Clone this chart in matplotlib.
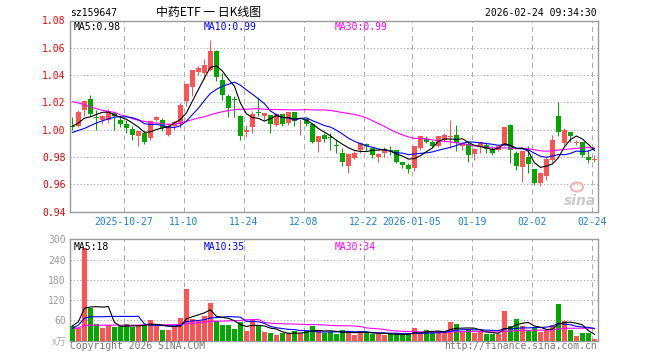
import numpy as np
import pandas as pd
import matplotlib
matplotlib.use("Agg")
import matplotlib.pyplot as plt
from matplotlib.patches import Ellipse

# ---------------- data ----------------
tick_idx = [9, 19, 29, 39, 49, 57, 67, 77, 87]
tick_labels = ["2025-10-27", "11-10", "11-24", "12-08", "12-22",
               "2026-01-05", "01-19", "02-02", "02-24"]

open_ = [1.003, 1.0025, 1.0142, 1.0228, 1.009, 1.0069, 1.0074, 1.0122, 1.0074, 1.0044,
         1.0007, 0.9956, 0.9975, 0.9936, 1.0074, 1.0074, 0.9963, 1.0025, 1.0044, 1.0208,
         1.0314, 1.0425, 1.0415, 1.0438, 1.0579, 1.0364, 1.0247, 1.0225, 1.0103, 0.9987,
         1.002, 1.013, 1.0098, 1.0105, 1.0032, 1.0118, 1.0049, 1.0127, 1.0069, 1.0078,
         1.0042, 0.9914, 0.9963, 0.9941, 0.9885, 0.9828, 0.9735, 0.9792, 0.9853, 0.9897,
         0.9865, 0.9804, 0.9828, 0.9849, 0.9853, 0.9762, 0.9743, 0.9718, 0.9865, 0.9931,
         0.9914, 0.9882, 0.9926, 0.9949, 0.9963, 0.9878, 0.9897, 0.9824, 0.9873, 0.989,
         0.9858, 0.9853, 0.9882, 1.0037, 0.9833, 0.973, 0.9797, 0.9713, 0.9608, 0.9664,
         0.9779, 1.0098, 0.9902, 0.998, 0.9902, 0.9914, 0.9804, 0.9782]
high = [1.009, 1.0142, 1.022, 1.0255, 1.0147, 1.011, 1.0152, 1.0127, 1.0098, 1.0074,
        1.0025, 0.9988, 0.9988, 1.0074, 1.0103, 1.0086, 1.0049, 1.0065, 1.0196, 1.0343,
        1.0441, 1.047, 1.052, 1.0657, 1.0585, 1.0413, 1.0262, 1.0247, 1.011, 1.0035,
        1.0135, 1.0238, 1.0122, 1.0105, 1.0122, 1.0118, 1.0127, 1.013, 1.0078, 1.0086,
        1.0042, 0.9951, 0.9975, 0.9975, 0.9926, 0.9865, 0.9828, 0.9848, 0.9914, 0.99,
        0.987, 0.9833, 0.9873, 0.9882, 0.9855, 0.9765, 0.9755, 0.9882, 0.9955, 0.9956,
        0.9926, 0.9956, 0.9975, 1.0069, 1.0037, 0.9914, 0.9914, 0.9865, 0.9914, 0.9914,
        0.9878, 0.989, 1.002, 1.0044, 0.9848, 0.9848, 0.9878, 0.9713, 0.9694, 0.9804,
        0.9963, 1.0201, 1.0012, 0.998, 0.9926, 0.9914, 0.9853, 0.9816]
low = [1.000, 1.002, 1.0098, 1.0098, 1.000, 1.0044, 1.0049, 1.000, 1.002, 0.9975,
       0.9926, 0.9878, 0.9897, 0.9926, 1.0061, 0.9988, 0.9956, 1.000, 1.0012, 1.0172,
       1.0245, 1.040, 1.037, 1.043, 1.036, 1.0218, 1.0096, 1.0096, 0.9922, 0.995,
       0.9975, 1.0098, 1.0069, 0.9975, 1.0025, 1.0025, 1.0037, 1.0025, 0.9963, 1.0029,
       0.990, 0.984, 0.9914, 0.9853, 0.9828, 0.9735, 0.9686, 0.9784, 0.9828, 0.9841,
       0.9792, 0.9767, 0.9804, 0.9816, 0.9755, 0.9718, 0.9686, 0.9701, 0.9853, 0.9902,
       0.9865, 0.9877, 0.9914, 0.9865, 0.9841, 0.9853, 0.9767, 0.978, 0.9828, 0.9828,
       0.9816, 0.9841, 0.9878, 0.9755, 0.9706, 0.962, 0.9681, 0.9596, 0.9591, 0.9632,
       0.9767, 0.9951, 0.989, 0.9914, 0.989, 0.9799, 0.9755, 0.9767]
close = [1.002, 1.0127, 1.0208, 1.0118, 1.0088, 1.0098, 1.0135, 1.0098, 1.0044, 1.001,
         0.9958, 0.9988, 0.9907, 1.0061, 1.0096, 1.0012, 1.0029, 1.0055, 1.0184, 1.0338,
         1.0441, 1.0455, 1.0475, 1.0577, 1.0389, 1.0255, 1.0157, 1.0218, 0.9956, 0.9999,
         1.0118, 1.0125, 1.012, 1.0042, 1.0118, 1.0042, 1.0127, 1.0061, 1.0074, 1.0044,
         0.9914, 0.9951, 0.9931, 0.9939, 0.9883, 0.9767, 0.9821, 0.9833, 0.9902, 0.9878,
         0.9816, 0.9824, 0.9858, 0.9847, 0.9767, 0.9743, 0.9711, 0.9878, 0.9951, 0.9914,
         0.9882, 0.9951, 0.9963, 0.9951, 0.9902, 0.9902, 0.9816, 0.9858, 0.9907, 0.9858,
         0.9828, 0.9878, 1.0017, 0.9853, 0.9738, 0.9848, 0.9748, 0.9608, 0.9681, 0.9784,
         0.9926, 0.998, 1.000, 0.9951, 0.9914, 0.9816, 0.978, 0.9787]
volume = [44, 38, 276, 97, 49, 38, 46, 40, 43, 49,
          42, 46, 48, 61, 45, 31, 31, 43, 66, 153,
          63, 58, 73, 111, 57, 46, 46, 35, 55, 28,
          64, 45, 27, 22, 16, 22, 22, 29, 24, 28,
          43, 28, 22, 26, 19, 31, 26, 17, 28, 25,
          19, 21, 17, 19, 19, 17, 23, 37, 21, 31,
          26, 28, 26, 55, 49, 28, 31, 23, 28, 19,
          19, 21, 88, 44, 64, 43, 30, 37, 26, 31,
          46, 108, 58, 32, 15, 22, 22, 4]

# moving-average values before a full window exists
ma5_head = [1.0025, 1.005, 1.0085, 1.0095]
ma10_head = [0.998, 0.9995, 1.001, 1.003, 1.005, 1.0065, 1.008, 1.0093, 1.0095]
ma30_head = [1.0206, 1.0196, 1.0184, 1.0167, 1.0154, 1.0142, 1.0135, 1.0127, 1.011, 1.0098,
             1.0081, 1.0069, 1.0061, 1.0054, 1.0049, 1.0044, 1.0039, 1.0042, 1.0049, 1.0061,
             1.0074, 1.0086, 1.0095, 1.011, 1.0122, 1.0132, 1.014, 1.0147, 1.015]
vma5_head = [44, 56, 96, 100]
vma10_head = [37, 46, 67, 71, 71, 71, 72, 72, 72]
vma30_head = [36, 38, 45, 46, 46, 46, 46, 46, 46, 46, 46, 46, 47, 47, 47,
              47, 47, 48, 48, 50, 52, 53, 55, 57, 58, 58, 59, 59, 60]

price_ticks = [0.94, 0.96, 0.98, 1.00, 1.02, 1.04, 1.06, 1.08]
vol_ticks = [60, 120, 180, 240, 300]


def ma(values, window, head):
    out = pd.Series(values, dtype=float).rolling(window).mean().to_numpy()
    out[:len(head)] = head
    return out


open_ = np.array(open_); high = np.array(high); low = np.array(low)
close = np.array(close); volume = np.array(volume, dtype=float)
n = len(close)
x = np.arange(n)

RED = "#ff5252"
GREEN = "#00a800"
BLUE_TXT = "#1a80d0"
GRID = "#aaaaaa"
FRAME = "#9a9a9a"
MONO = "DejaVu Sans Mono"
CJK = ["Noto Sans CJK SC", "DejaVu Sans"]

plt.rcParams["lines.scale_dashes"] = False

fig = plt.figure(figsize=(6.6, 3.6), dpi=100)
fig.patch.set_facecolor("white")

W, H = 660.0, 360.0


def fx(px):
    return px / W


def fy(py):
    return 1 - py / H


ax = fig.add_axes([fx(70), fy(211.7), 528 / W, 191.2 / H])
vax = fig.add_axes([fx(70), fy(340.7), 528 / W, 101.2 / H])

colors = np.where(close >= open_, RED, GREEN)
tick_pos = np.array(tick_idx) - 0.4

for a in (ax, vax):
    a.set_xlim(-0.4, n - 0.4)
    for s in a.spines.values():
        s.set_color(FRAME)
        s.set_linewidth(1.0)
    a.set_xticks(tick_pos)
    a.xaxis.grid(True, color=GRID, linestyle=(0, (3.6, 2.9)), linewidth=0.72)
    a.yaxis.grid(True, color=GRID, linestyle=(0, (0.9, 1.5)), linewidth=0.72)
    a.set_axisbelow(True)
    a.tick_params(length=0)

# ---- price panel ----
ax.set_ylim(0.94, 1.08)
ax.vlines(x, low, high, colors=colors, linewidth=0.75, zorder=2)
body_bot = np.minimum(open_, close)
body_h = np.maximum(np.abs(close - open_), 0.0006)
ax.bar(x, body_h, bottom=body_bot, width=0.78, color=colors, linewidth=0,
       zorder=3, antialiased=False)
ax.plot(x, ma(close, 30, ma30_head), color="#ff00ff", lw=0.8, zorder=4)
ax.plot(x, ma(close, 10, ma10_head), color="#0000ff", lw=0.8, zorder=4)
ax.plot(x, ma(close, 5, ma5_head), color="black", lw=0.8, zorder=5)
ax.set_yticks(price_ticks)
ax.set_yticklabels([f"{v:.2f}" for v in price_ticks], fontfamily=MONO, fontsize=7)
for lab, v in zip(ax.get_yticklabels(), price_ticks):
    lab.set_color("#ff0000" if v >= 1.0 else "#e00000")
ax.set_xticklabels(tick_labels, fontfamily=MONO, fontsize=7, color=BLUE_TXT)
ax.tick_params(axis="y", pad=3)
ax.tick_params(axis="x", pad=3.5)

# ---- volume panel ----
vax.set_ylim(0, 300)
vax.bar(x, volume, width=0.8, color=colors, linewidth=0, zorder=3, antialiased=False)
vax.plot(x, ma(volume, 30, vma30_head), color="#ff00ff", lw=0.8, zorder=4)
vax.plot(x, ma(volume, 10, vma10_head), color="#0000ff", lw=0.8, zorder=4)
vax.plot(x, ma(volume, 5, vma5_head), color="black", lw=0.8, zorder=5)
vax.set_yticks(vol_ticks)
vax.set_yticklabels([str(v) for v in vol_ticks], fontfamily=MONO, fontsize=7, color="#999999")
vax.tick_params(axis="y", pad=3)
vax.set_xticklabels([])

# ---- texts ----
ma5_last = ma(close, 5, ma5_head)[-1]
ma10_last = ma(close, 10, ma10_head)[-1]
ma30_last = ma(close, 30, ma30_head)[-1]
fig.text(fx(74), fy(26.5), "MA5:0.98", fontfamily=MONO, fontsize=7, color="black", va="center")
fig.text(fx(204), fy(26.5), "MA10:0.99", fontfamily=MONO, fontsize=7, color="#0000ff", va="center")
fig.text(fx(334.5), fy(26.5), "MA30:0.99", fontfamily=MONO, fontsize=7, color="#ff00ff", va="center")
fig.text(fx(74), fy(246.5), "MA5:18", fontfamily=MONO, fontsize=7, color="black", va="center")
fig.text(fx(204), fy(246.5), "MA10:35", fontfamily=MONO, fontsize=7, color="#0000ff", va="center")
fig.text(fx(334.5), fy(246.5), "MA30:34", fontfamily=MONO, fontsize=7, color="#ff00ff", va="center")

fig.text(fx(70), fy(13), "sz159647", fontfamily=MONO, fontsize=7, color="black", va="center")
fig.text(fx(209), fy(12.5), "中药ETF 一 日K线图", fontfamily=CJK, fontsize=8.6,
         color="black", va="center", ha="center")
fig.text(fx(597), fy(13), "2026-02-24 09:34:30", fontfamily=MONO, fontsize=7,
         color="black", va="center", ha="right")

fig.text(fx(66), fy(341.5), "x万", fontfamily=CJK, fontsize=7, color="#aaaaaa",
         va="center", ha="right", style="italic")
fig.text(fx(70), fy(346), "Copyright 2026 SINA.COM", fontfamily=MONO, fontsize=7,
         color="#777777", va="center")
fig.text(fx(597), fy(346), "http://finance.sina.com.cn", fontfamily=MONO, fontsize=7,
         color="#777777", va="center", ha="right")

# sina watermark
fig.text(fx(580), fy(201), "sina", fontfamily="DejaVu Sans", fontsize=10, style="italic",
         weight="bold", color="#c4c4c4", va="center", ha="center", alpha=0.9)
fig.patches.append(Ellipse((fx(577), fy(187)), 12 / W, 9 / H, transform=fig.transFigure,
                           facecolor="none", edgecolor="#f3b4b4", lw=1.5))

fig.savefig("out.png", dpi=100, facecolor="white")
